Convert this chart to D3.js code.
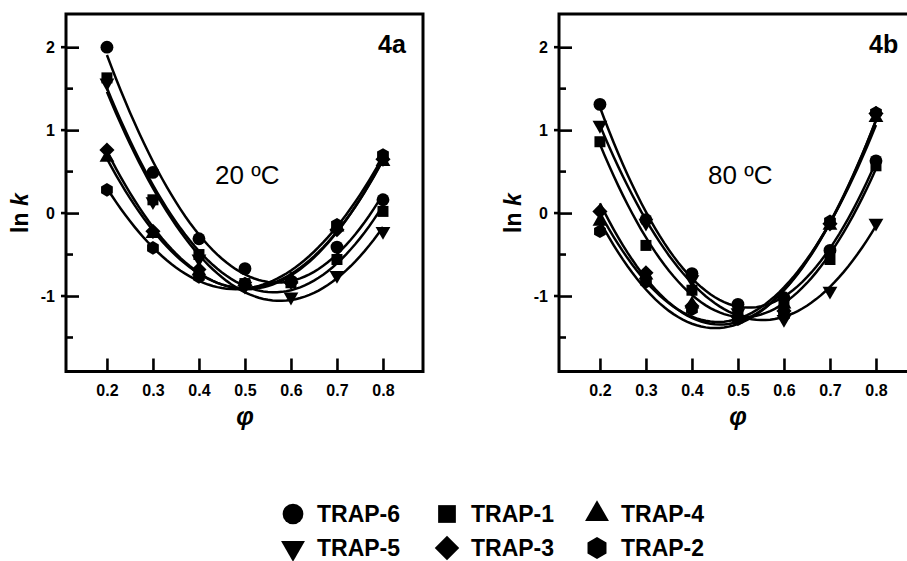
<!DOCTYPE html>
<html>
<head>
<meta charset="utf-8">
<script src="https://cdn.jsdelivr.net/npm/d3@7"></script>
<style>
  body { margin: 0; background: #fff; }
  svg { display: block; }
  text { font-family: "Liberation Sans", Arial, Helvetica, sans-serif; fill: #000; }
</style>
</head>
<body>
<svg id="chart" width="907" height="561"></svg>
<script>
// Volume fraction of organic modifier
const phi = [0.2, 0.3, 0.4, 0.5, 0.6, 0.7, 0.8];

// ln k at 20 °C
const lnk20_trap6 = [2.00, 0.49, -0.31, -0.67, -0.82, -0.41, 0.16];
const lnk20_trap1 = [1.63, 0.16, -0.50, -0.85, -0.84, -0.56, 0.02];
const lnk20_trap4 = [0.67, -0.25, -0.70, -0.88, -0.80, -0.17, 0.62];
const lnk20_trap5 = [1.57, 0.14, -0.55, -0.88, -1.01, -0.75, -0.22];
const lnk20_trap3 = [0.76, -0.22, -0.68, -0.87, -0.83, -0.20, 0.65];
const lnk20_trap2 = [0.28, -0.42, -0.77, -0.85, -0.82, -0.14, 0.70];

// ln k at 80 °C
const lnk80_trap6 = [1.31, -0.08, -0.73, -1.10, -1.02, -0.45, 0.63];
const lnk80_trap1 = [0.86, -0.39, -0.93, -1.20, -1.10, -0.56, 0.57];
const lnk80_trap4 = [-0.10, -0.75, -1.10, -1.25, -1.10, -0.15, 1.15];
const lnk80_trap5 = [1.06, -0.12, -0.80, -1.20, -1.28, -0.94, -0.12];
const lnk80_trap3 = [0.02, -0.72, -1.12, -1.25, -1.18, -0.13, 1.20];
const lnk80_trap2 = [-0.22, -0.83, -1.16, -1.28, -1.23, -0.10, 1.21];

const seriesNames = ["TRAP-6", "TRAP-1", "TRAP-4", "TRAP-5", "TRAP-3", "TRAP-2"];
const markerKinds = ["circle", "square", "triangleUp", "triangleDown", "diamond", "hexagon"];

const yMajorTicks = [-1, 0, 1, 2];
const yMinorTicks = [-1.5, -0.5, 0.5, 1.5];
const xTicks = [0.2, 0.3, 0.4, 0.5, 0.6, 0.7, 0.8];

const panels = [
  { tag: "4a", temp: "20 \u00BAC", data: [lnk20_trap6, lnk20_trap1, lnk20_trap4, lnk20_trap5, lnk20_trap3, lnk20_trap2] },
  { tag: "4b", temp: "80 \u00BAC", data: [lnk80_trap6, lnk80_trap1, lnk80_trap4, lnk80_trap5, lnk80_trap3, lnk80_trap2] }
];

const svg = d3.select("#chart");
const panelLeft = [66, 559];
const panelTop = 14;
const panelW = 357, panelH = 357.5;

const x = d3.scaleLinear().domain([0.111, 0.887]).range([0, panelW]);
const y = d3.scaleLinear().domain([-1.91, 2.4]).range([panelH, 0]);

// Custom symbol shapes
const hexagon = {
  draw(ctx, size) {
    const r = Math.sqrt(size / (1.5 * Math.sqrt(3)));
    for (let i = 0; i < 6; i++) {
      const a = Math.PI / 2 + i * Math.PI / 3;
      const px = r * Math.cos(a), py = -r * Math.sin(a);
      if (i === 0) ctx.moveTo(px, py); else ctx.lineTo(px, py);
    }
    ctx.closePath();
  }
};
const squareDiamond = {
  draw(ctx, size) {
    const h = Math.sqrt(size / 2);
    ctx.moveTo(0, -h); ctx.lineTo(h, 0); ctx.lineTo(0, h); ctx.lineTo(-h, 0); ctx.closePath();
  }
};

function markerPath(kind, s) {
  switch (kind) {
    case "circle": return d3.symbol(d3.symbolCircle, 130 * s)();
    case "square": return d3.symbol(d3.symbolSquare, 121 * s)();
    case "triangleUp": return d3.symbol(d3.symbolTriangle, 95 * s)();
    case "triangleDown": return d3.symbol(d3.symbolTriangle, 95 * s)();
    case "diamond": return d3.symbol(squareDiamond, 115 * s)();
    case "hexagon": return d3.symbol(hexagon, 120 * s)();
  }
}
function markerRotate(kind) { return kind === "triangleDown" ? " rotate(180)" : ""; }

// Least-squares quadratic fit ln k = a + b*phi + c*phi^2
function quadFit(xs, ys) {
  let s0 = xs.length, s1 = 0, s2 = 0, s3 = 0, s4 = 0, t0 = 0, t1 = 0, t2 = 0;
  xs.forEach((xv, i) => {
    const yv = ys[i];
    s1 += xv; s2 += xv * xv; s3 += xv ** 3; s4 += xv ** 4;
    t0 += yv; t1 += xv * yv; t2 += xv * xv * yv;
  });
  const M = [[s0, s1, s2], [s1, s2, s3], [s2, s3, s4]];
  const det = m => m[0][0] * (m[1][1] * m[2][2] - m[1][2] * m[2][1])
                 - m[0][1] * (m[1][0] * m[2][2] - m[1][2] * m[2][0])
                 + m[0][2] * (m[1][0] * m[2][1] - m[1][1] * m[2][0]);
  const D = det(M);
  const rhs = [t0, t1, t2];
  const coef = [0, 1, 2].map(k => {
    const Mk = M.map((row, r) => row.map((v, c) => (c === k ? rhs[r] : v)));
    return det(Mk) / D;
  });
  return p => coef[0] + coef[1] * p + coef[2] * p * p;
}

const line = d3.line().x(d => x(d[0])).y(d => y(d[1]));
const samples = d3.range(0, 61).map(i => 0.2 + i * 0.01);

panels.forEach((panel, pi) => {
  const g = svg.append("g").attr("transform", `translate(${panelLeft[pi]},${panelTop})`);

  // fitted curves
  panel.data.forEach(vals => {
    const f = quadFit(phi, vals);
    g.append("path")
      .attr("d", line(samples.map(p => [p, f(p)])))
      .attr("fill", "none").attr("stroke", "#000").attr("stroke-width", 2.5);
  });

  // data markers
  panel.data.forEach((vals, si) => {
    const kind = markerKinds[si];
    g.selectAll(null).data(phi.map((p, i) => [p, vals[i]])).join("path")
      .attr("d", markerPath(kind, 1))
      .attr("transform", d => `translate(${x(d[0])},${y(d[1])})${markerRotate(kind)}`)
      .attr("fill", "#000");
  });

  // y axis (major ticks inward with labels)
  const yAxis = d3.axisLeft(y).tickValues(yMajorTicks).tickSizeInner(-13).tickSizeOuter(0)
    .tickPadding(11).tickFormat(d => String(d));
  const ya = g.append("g").call(yAxis);
  ya.select(".domain").remove();
  ya.selectAll(".tick line").attr("stroke", "#000").attr("stroke-width", 2.6);
  ya.selectAll(".tick text").attr("font-size", 16).attr("font-weight", "bold")
    .attr("fill", "#000").attr("dy", "0.36em");
  // outward stubs of major ticks
  g.selectAll(null).data(yMajorTicks).join("line")
    .attr("x1", -5).attr("x2", 0).attr("y1", d => y(d)).attr("y2", d => y(d))
    .attr("stroke", "#000").attr("stroke-width", 2.6);
  // minor ticks
  g.selectAll(null).data(yMinorTicks).join("line")
    .attr("x1", 0).attr("x2", 7).attr("y1", d => y(d)).attr("y2", d => y(d))
    .attr("stroke", "#000").attr("stroke-width", 2.6);

  // x axis
  const xAxis = d3.axisBottom(x).tickValues(xTicks).tickSizeInner(-13).tickSizeOuter(0)
    .tickPadding(13).tickFormat(d3.format(".1f"));
  const xa = g.append("g").attr("transform", `translate(0,${panelH})`).call(xAxis);
  xa.select(".domain").remove();
  xa.selectAll(".tick line").attr("stroke", "#000").attr("stroke-width", 2.6);
  xa.selectAll(".tick text").attr("font-size", 16).attr("font-weight", "bold").attr("fill", "#000");

  // frame
  g.append("rect").attr("x", 0).attr("y", 0).attr("width", panelW).attr("height", panelH)
    .attr("fill", "none").attr("stroke", "#000").attr("stroke-width", 3);

  // axis titles
  const yl = g.append("text")
    .attr("transform", `translate(-38,${y(0)}) rotate(-90)`)
    .attr("text-anchor", "middle").attr("font-size", 23).attr("font-weight", "bold");
  yl.append("tspan").text("ln ");
  yl.append("tspan").attr("font-style", "italic").text("k");

  g.append("text")
    .attr("x", x(0.5)).attr("y", 425 - panelTop)
    .attr("text-anchor", "middle").attr("font-size", 25).attr("font-weight", "bold")
    .attr("font-style", "italic").text("\u03C6");

  // panel tag and temperature
  g.append("text").attr("x", pi === 0 ? 312 : 310).attr("y", 53 - panelTop)
    .attr("font-size", 25).attr("font-weight", "bold").text(panel.tag);
  g.append("text").attr("x", 149).attr("y", 184 - panelTop)
    .attr("font-size", 26).text(panel.temp);
});

// legend
const legendCols = [293, 447, 597];
const legendRows = [514, 548];
const legend = svg.append("g");
seriesNames.forEach((name, i) => {
  const col = i % 3, row = Math.floor(i / 3);
  const kind = markerKinds[i];
  const cx = legendCols[col], cy = legendRows[row];
  legend.append("path")
    .attr("d", markerPath(kind, 2.6))
    .attr("transform", `translate(${cx},${cy})${markerRotate(kind)}`)
    .attr("fill", "#000");
  legend.append("text")
    .attr("x", cx + 24).attr("y", cy + 8)
    .attr("font-size", 23).attr("font-weight", "bold").text(name);
});
</script>
</body>
</html>
